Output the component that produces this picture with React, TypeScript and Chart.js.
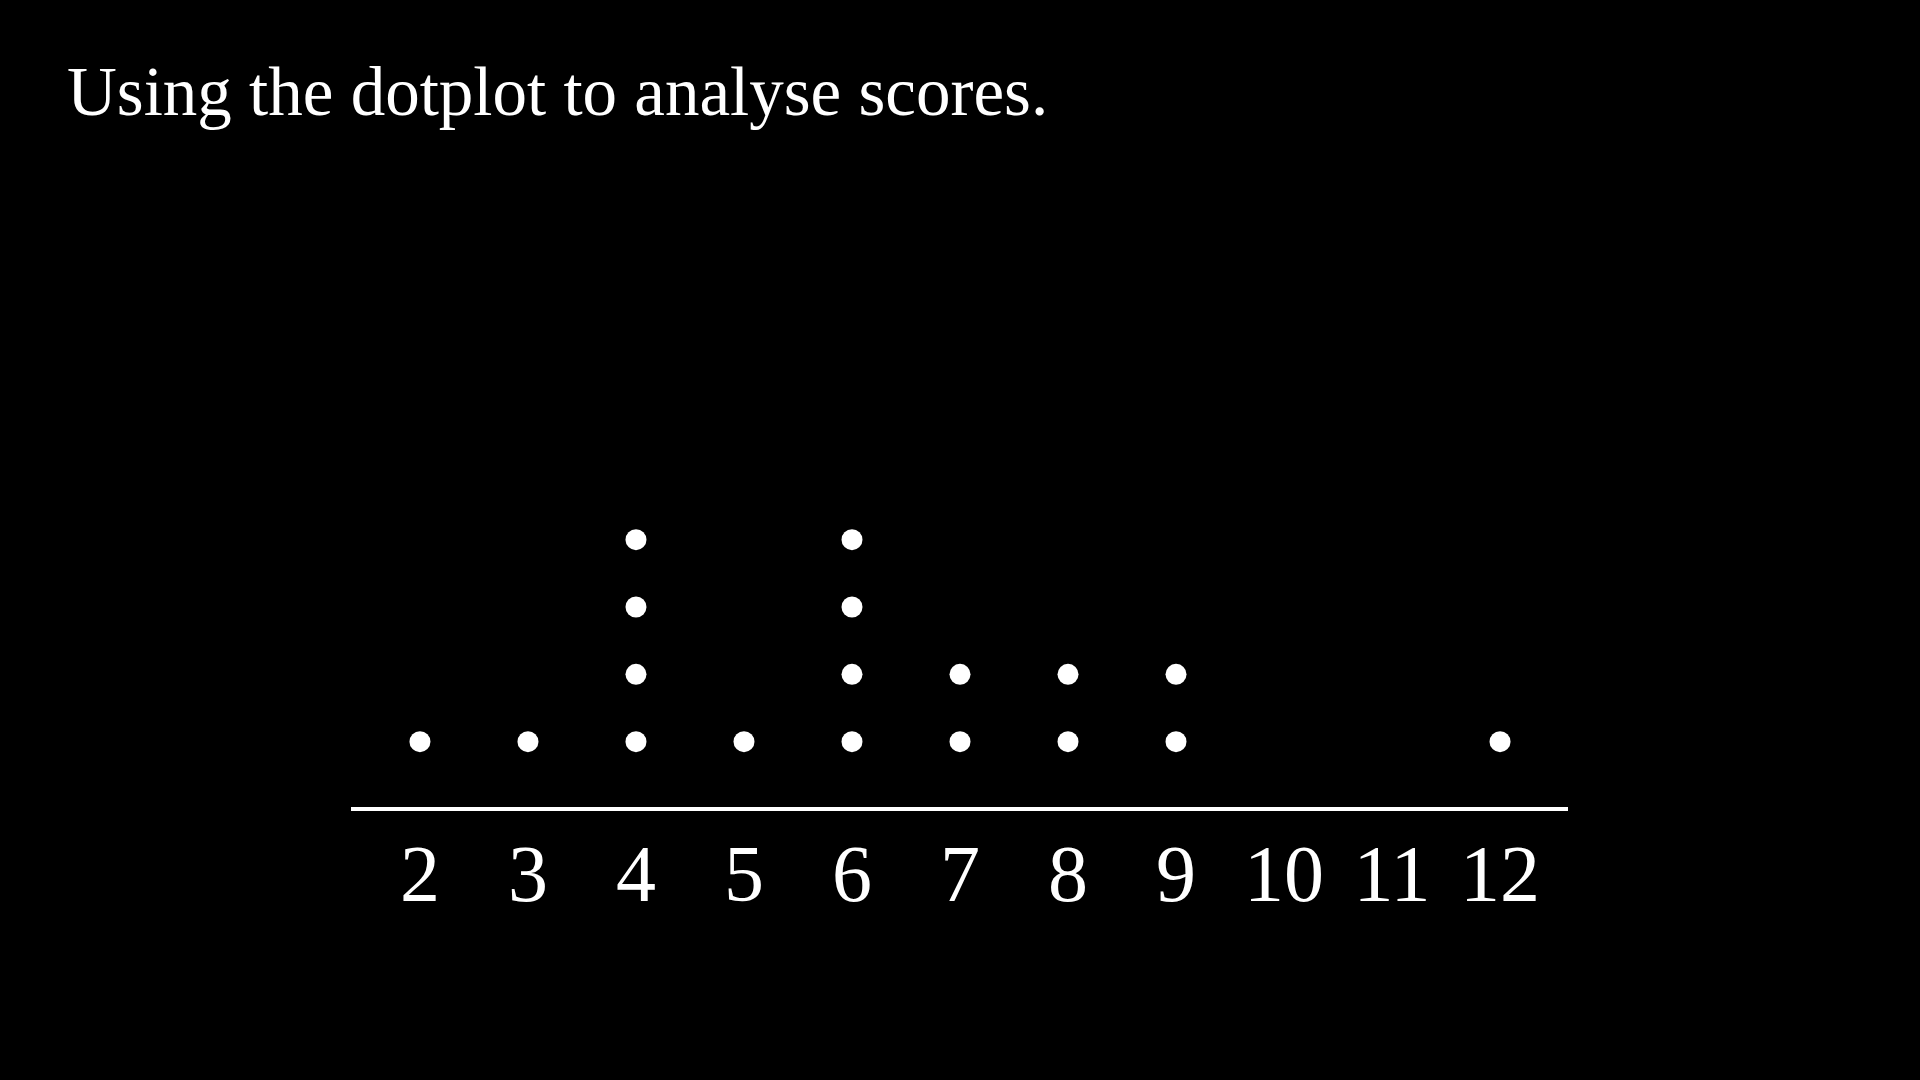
import React, { useEffect, useRef } from "react";
import { Chart, registerables } from "chart.js";

Chart.register(...registerables);

const TITLE = "Using the dotplot to analyse scores.";
const SCORES = [2, 3, 4, 5, 6, 7, 8, 9, 10, 11, 12];
const COUNTS = [1, 1, 4, 1, 4, 2, 2, 2, 0, 0, 1];
const X_MIN = 1.38;
const X_MAX = 12.62;
const Y_MAX = 4.5;

export default function App() {
  const ref = useRef<HTMLCanvasElement | null>(null);

  useEffect(() => {
    if (!ref.current) return;
    const points: { x: number; y: number }[] = [];
    SCORES.forEach((s, i) => {
      for (let k = 1; k <= COUNTS[i]; k++) points.push({ x: s, y: k });
    });
    const chart = new Chart(ref.current, {
      type: "scatter",
      data: {
        datasets: [
          {
            data: points,
            pointRadius: 10.5,
            pointHoverRadius: 10.5,
            pointBackgroundColor: "#ffffff",
            pointBorderWidth: 0,
            borderColor: "#ffffff",
          },
        ],
      },
      options: {
        animation: false,
        responsive: false,
        maintainAspectRatio: false,
        layout: { padding: { left: 353, right: 353, top: 506, bottom: 0 } },
        plugins: {
          legend: { display: false },
          tooltip: { enabled: false },
          title: { display: false },
        },
        scales: {
          x: {
            type: "linear",
            min: X_MIN,
            max: X_MAX,
            afterBuildTicks: (scale: any) => {
              scale.ticks = SCORES.map((v) => ({ value: v }));
            },
            afterFit: (scale: any) => {
              scale.height = 1080 - 809;
            },
            grid: { display: false, drawTicks: false },
            border: { display: true, color: "#ffffff", width: 4 },
            ticks: {
              color: "#ffffff",
              padding: 23,
              autoSkip: false,
              maxRotation: 0,
              font: { family: "'Liberation Serif', serif", size: 80 },
              callback: (v: any) => String(v),
            },
          },
          y: {
            display: false,
            min: 0,
            max: Y_MAX,
          },
        },
      },
    });
    return () => chart.destroy();
  }, []);

  return (
    <div
      style={{
        position: "fixed",
        left: 0,
        top: 0,
        width: 1920,
        height: 1080,
        background: "#000000",
        overflow: "hidden",
      }}
    >
      <div
        style={{
          position: "absolute",
          left: 67,
          top: 58,
          fontFamily: "'Liberation Serif', serif",
          fontSize: 69,
          lineHeight: 1,
          color: "#ffffff",
          whiteSpace: "nowrap",
        }}
      >
        {TITLE}
      </div>
      <canvas
        ref={ref}
        width={1920}
        height={1080}
        style={{ position: "absolute", left: 0, top: 0, width: 1920, height: 1080 }}
      />
    </div>
  );
}
